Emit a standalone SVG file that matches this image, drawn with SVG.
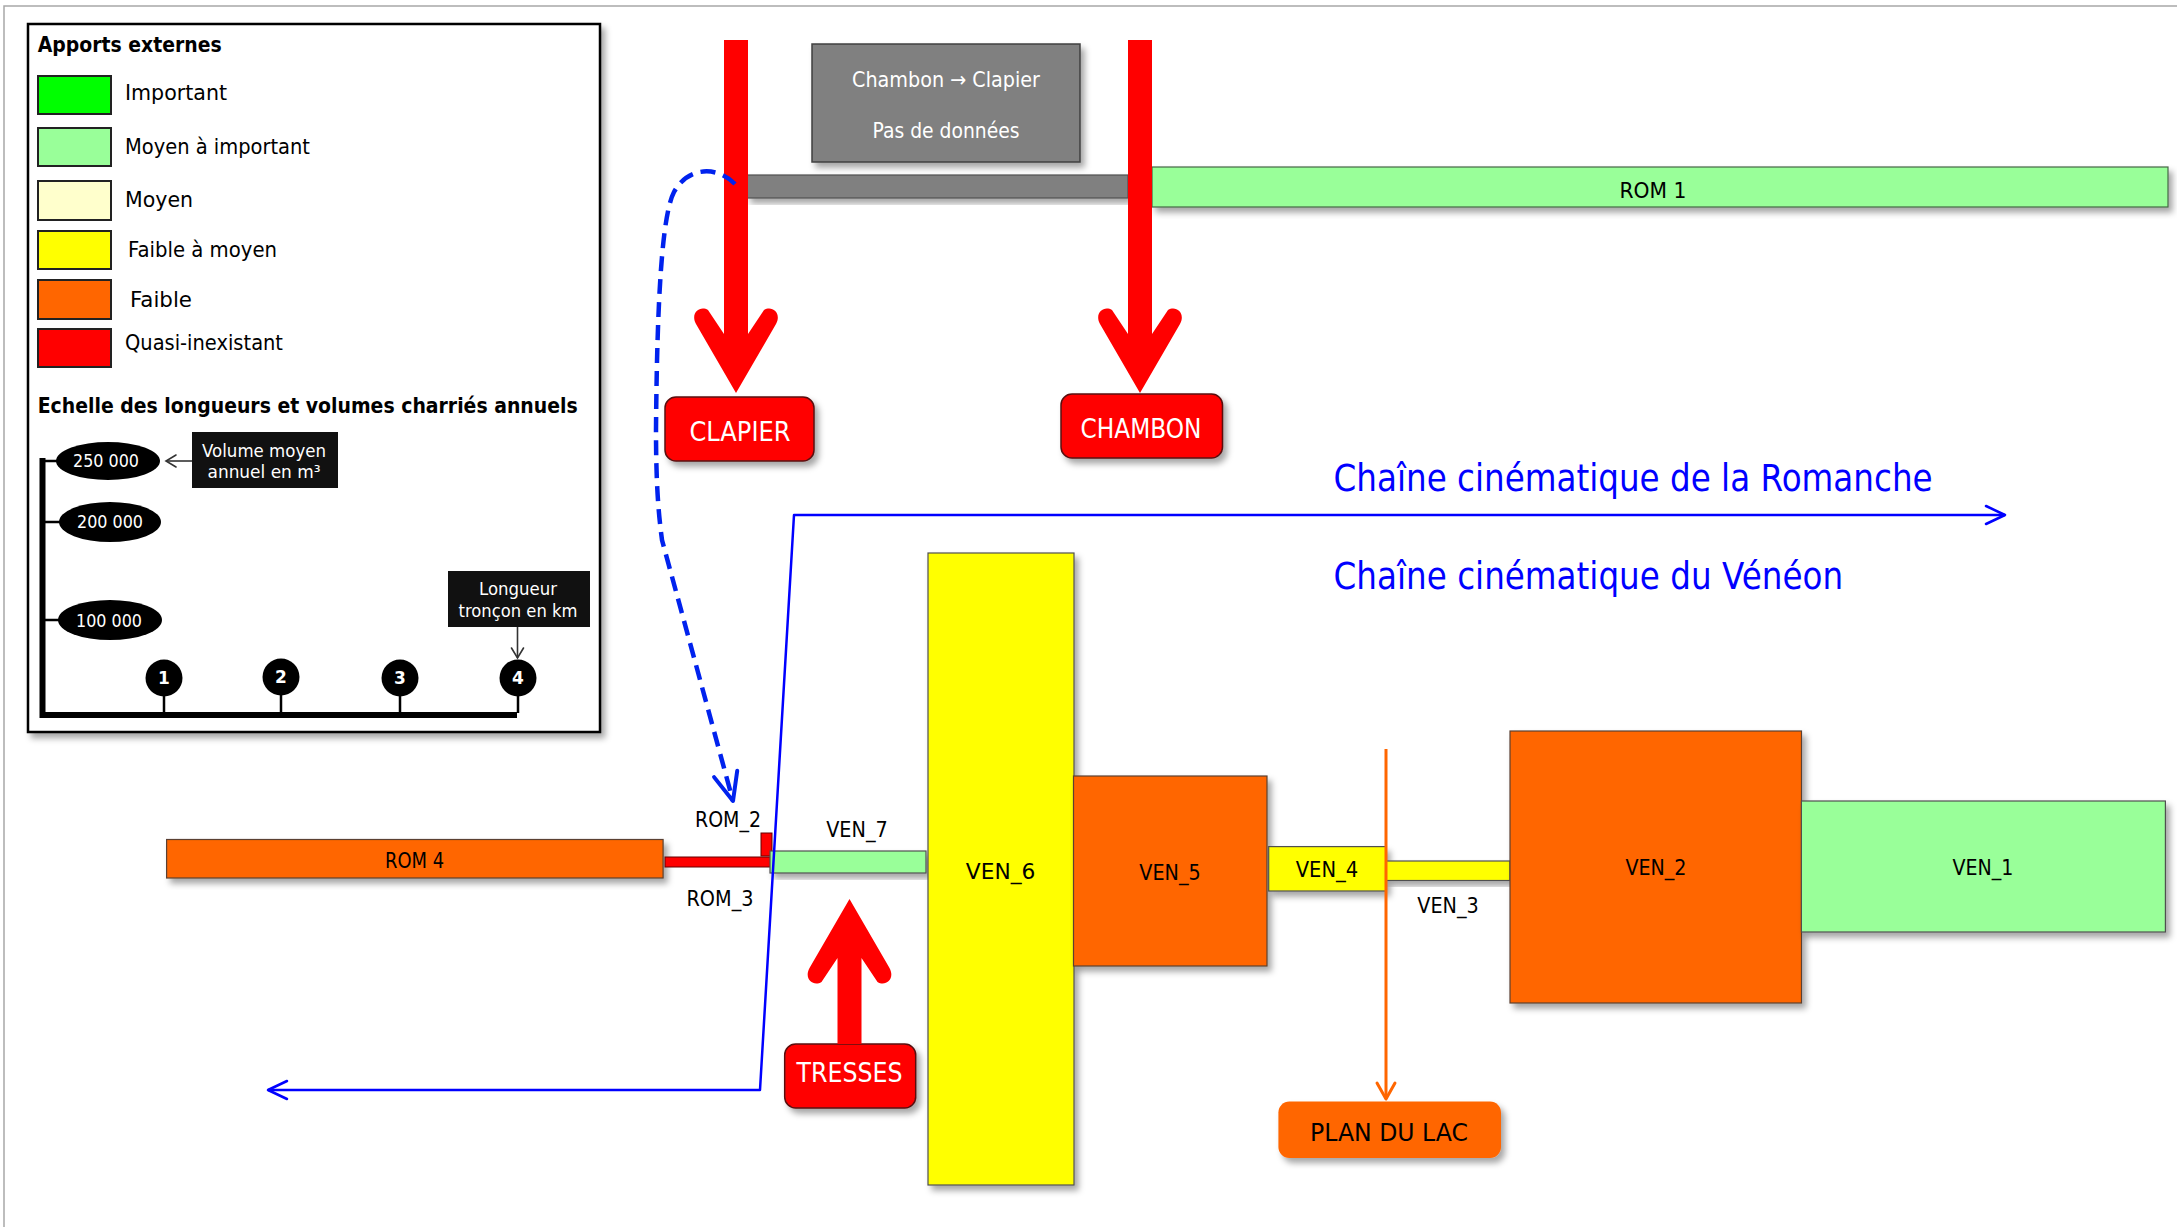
<svg xmlns="http://www.w3.org/2000/svg" width="2177" height="1227" viewBox="0 0 2177 1227">
  <style>
    text { font-family: "DejaVu Sans", "Liberation Sans", sans-serif; }
    .lg { font-size: 21px; fill: #000; }
    .lgb { font-size: 20.6px; font-weight: bold; fill: #000; }
    .wt { fill: #fff; }
    .seg { font-size: 21.5px; fill: #000; text-anchor: middle; }
    .tag { font-size: 27px; fill: #fff; text-anchor: middle; }
    .chain { font-size: 37px; fill: #0000ff; }
    .rom { stroke: #5a4030; stroke-width: 1.2; }
    .ven { stroke: #505050; stroke-width: 1.2; }
    .swatch { stroke: #222; stroke-width: 2; }
  </style>
  <defs>
    <filter id="shadow" x="-10%" y="-10%" width="130%" height="140%">
      <feDropShadow dx="4" dy="5" stdDeviation="3" flood-color="#000" flood-opacity="0.35"/>
    </filter>
    <marker id="headBlue" markerUnits="userSpaceOnUse" markerWidth="26" markerHeight="26" refX="22" refY="12" orient="auto-start-reverse">
      <path d="M3,3 L22,12 L3,21" fill="none" stroke="#0000ff" stroke-width="2.5" stroke-linecap="round" stroke-linejoin="round"/>
    </marker>
    <marker id="headDash" markerUnits="userSpaceOnUse" markerWidth="36" markerHeight="36" refX="32" refY="16" orient="auto">
      <path d="M4,4 L32,16 L4,28" fill="none" stroke="#0022ee" stroke-width="4" stroke-linecap="round" stroke-linejoin="round"/>
    </marker>
    <marker id="headOrange" markerUnits="userSpaceOnUse" markerWidth="24" markerHeight="24" refX="20" refY="12" orient="auto">
      <path d="M4,3 L20,12 L4,21" fill="none" stroke="#ff6600" stroke-width="3" stroke-linecap="round" stroke-linejoin="round"/>
    </marker>
    <marker id="headSmall" markerUnits="userSpaceOnUse" markerWidth="16" markerHeight="16" refX="13" refY="8" orient="auto">
      <path d="M3,2 L13,8 L3,14" fill="none" stroke="#333" stroke-width="1.6" stroke-linecap="round"/>
    </marker>
  </defs>

  <rect width="2177" height="1227" fill="#fff"/>
  <!-- page frame -->
  <path d="M4,1227 L4,6 L2177,6" fill="none" stroke="#a8a8a8" stroke-width="1.5"/>

  <!-- legend -->
  <g id="legend">
    <rect x="28" y="24" width="572" height="708" fill="#fff" stroke="#000" stroke-width="2.5" filter="url(#shadow)"/>
    <text class="lgb" x="37.7" y="51.7" textLength="184" lengthAdjust="spacingAndGlyphs">Apports externes</text>
    <rect class="swatch" x="38" y="76" width="73" height="38" fill="#00ff00"/>
    <rect class="swatch" x="38" y="128" width="73" height="38" fill="#99ff99"/>
    <rect class="swatch" x="38" y="181" width="73" height="39" fill="#ffffcc"/>
    <rect class="swatch" x="38" y="231" width="73" height="38" fill="#ffff00"/>
    <rect class="swatch" x="38" y="280" width="73" height="39" fill="#ff6600"/>
    <rect class="swatch" x="38" y="329" width="73" height="38" fill="#ff0000"/>
    <text class="lg" x="125" y="100" textLength="102" lengthAdjust="spacingAndGlyphs">Important</text>
    <text class="lg" x="125" y="154" textLength="185" lengthAdjust="spacingAndGlyphs">Moyen à important</text>
    <text class="lg" x="125" y="207" textLength="68" lengthAdjust="spacingAndGlyphs">Moyen</text>
    <text class="lg" x="128" y="257" textLength="149" lengthAdjust="spacingAndGlyphs">Faible à moyen</text>
    <text class="lg" x="130" y="307" textLength="62" lengthAdjust="spacingAndGlyphs">Faible</text>
    <text class="lg" x="125" y="350" textLength="158" lengthAdjust="spacingAndGlyphs">Quasi-inexistant</text>
    <text class="lgb" x="37.7" y="413" textLength="540" lengthAdjust="spacingAndGlyphs">Echelle des longueurs et volumes charriés annuels</text>

    <!-- scale axes -->
    <path d="M42.5,458 L42.5,715 L517,715" fill="none" stroke="#000" stroke-width="6"/>
    <path d="M43,461 H58 M43,522 H60 M43,620 H60 M164,696 V713 M281,695 V713 M400,696 V713 M518,696 V713" stroke="#000" stroke-width="2.5"/>
    <ellipse cx="108" cy="461" rx="52" ry="19" fill="#000"/>
    <ellipse cx="110" cy="522" rx="51" ry="20" fill="#000"/>
    <ellipse cx="110" cy="620" rx="52" ry="20" fill="#000"/>
    <text class="wt" x="106" y="467" font-size="18.5" text-anchor="middle" textLength="66" lengthAdjust="spacingAndGlyphs">250 000</text>
    <text class="wt" x="110" y="528" font-size="18.5" text-anchor="middle" textLength="66" lengthAdjust="spacingAndGlyphs">200 000</text>
    <text class="wt" x="109" y="627" font-size="18.5" text-anchor="middle" textLength="66" lengthAdjust="spacingAndGlyphs">100 000</text>
    <circle cx="164" cy="678" r="18.5" fill="#000"/>
    <circle cx="281" cy="677" r="18.5" fill="#000"/>
    <circle cx="400" cy="678" r="18.5" fill="#000"/>
    <circle cx="518" cy="678" r="18.5" fill="#000"/>
    <text class="wt" x="164" y="684" font-size="17" font-weight="bold" text-anchor="middle">1</text>
    <text class="wt" x="281" y="683" font-size="17" font-weight="bold" text-anchor="middle">2</text>
    <text class="wt" x="400" y="684" font-size="17" font-weight="bold" text-anchor="middle">3</text>
    <text class="wt" x="518" y="684" font-size="17" font-weight="bold" text-anchor="middle">4</text>

    <rect x="192" y="432" width="146" height="56" fill="#111"/>
    <text class="wt" x="264" y="456.7" font-size="17.5" text-anchor="middle" textLength="124" lengthAdjust="spacingAndGlyphs">Volume moyen</text>
    <text class="wt" x="264" y="478" font-size="17.5" text-anchor="middle" textLength="113" lengthAdjust="spacingAndGlyphs">annuel en m³</text>
    <line x1="192" y1="461" x2="166" y2="461" stroke="#333" stroke-width="1.6" marker-end="url(#headSmall)"/>

    <rect x="448" y="571" width="142" height="56" fill="#111"/>
    <text class="wt" x="518" y="595" font-size="17.5" text-anchor="middle" textLength="78" lengthAdjust="spacingAndGlyphs">Longueur</text>
    <text class="wt" x="518" y="616.7" font-size="17.5" text-anchor="middle" textLength="119" lengthAdjust="spacingAndGlyphs">tronçon en km</text>
    <line x1="517.5" y1="627" x2="517.5" y2="658" stroke="#333" stroke-width="1.6" marker-end="url(#headSmall)"/>
  </g>

  <!-- reach without data between the two dams -->
  <g id="no-data">
    <rect x="747" y="175" width="381" height="23" fill="#808080" stroke="#505050" stroke-width="1.2" filter="url(#shadow)"/>
    <rect x="812" y="44" width="268" height="118" fill="#808080" stroke="#404040" stroke-width="1.5" filter="url(#shadow)"/>
    <text class="wt" x="946" y="86.7" font-size="21" text-anchor="middle" textLength="188" lengthAdjust="spacingAndGlyphs">Chambon → Clapier</text>
    <text class="wt" x="946" y="138" font-size="21" text-anchor="middle" textLength="147" lengthAdjust="spacingAndGlyphs">Pas de données</text>
  </g>

  <g id="ROM1">
    <rect x="1152" y="167" width="1016" height="40" fill="#99ff99" stroke="#446644" stroke-width="1.2" filter="url(#shadow)"/>
    <text class="seg" x="1653" y="198" textLength="67" lengthAdjust="spacingAndGlyphs">ROM 1</text>
  </g>

  <g id="ROM4">
    <rect class="rom" x="166.6" y="839.5" width="496.5" height="38.5" fill="#ff6600" filter="url(#shadow)"/>
    <text class="seg" x="414.6" y="868" textLength="59" lengthAdjust="spacingAndGlyphs">ROM 4</text>
  </g>

  <g id="ROM3">
    <rect x="665" y="857" width="106" height="10" fill="#ff0000" stroke="#600" stroke-width="1"/>
    <text class="seg" x="720" y="906" textLength="67" lengthAdjust="spacingAndGlyphs">ROM_3</text>
  </g>

  <g id="ROM2">
    <rect x="761" y="833" width="11" height="23" fill="#ff0000" stroke="#600" stroke-width="1"/>
    <text class="seg" x="728" y="827" textLength="66" lengthAdjust="spacingAndGlyphs">ROM_2</text>
  </g>

  <g id="VEN7">
    <rect class="ven" x="770" y="851" width="156" height="22" fill="#99ff99" filter="url(#shadow)"/>
    <text class="seg" x="857" y="837" textLength="61.6" lengthAdjust="spacingAndGlyphs">VEN_7</text>
  </g>

  <g id="VEN6">
    <rect class="ven" x="928" y="553" width="146" height="632" fill="#ffff00" filter="url(#shadow)"/>
    <text class="seg" x="1000.6" y="879" font-size="24" textLength="69.5" lengthAdjust="spacingAndGlyphs">VEN_6</text>
  </g>

  <g id="VEN5">
    <rect class="rom" x="1073.5" y="776" width="193.5" height="190" fill="#ff6600" filter="url(#shadow)"/>
    <text class="seg" x="1170" y="880.4" textLength="61.4" lengthAdjust="spacingAndGlyphs">VEN_5</text>
  </g>

  <g id="VEN4">
    <rect class="ven" x="1268.7" y="846.6" width="117.3" height="44.4" fill="#ffff00" filter="url(#shadow)"/>
    <text class="seg" x="1327" y="877.4" textLength="62.6" lengthAdjust="spacingAndGlyphs">VEN_4</text>
  </g>

  <g id="VEN3">
    <rect class="ven" x="1386" y="861" width="124" height="19.5" fill="#ffff00" filter="url(#shadow)"/>
    <text class="seg" x="1448" y="913" textLength="61.5" lengthAdjust="spacingAndGlyphs">VEN_3</text>
  </g>

  <g id="VEN2">
    <rect class="rom" x="1510" y="731" width="291.5" height="272" fill="#ff6600" filter="url(#shadow)"/>
    <text class="seg" x="1656" y="875" textLength="61" lengthAdjust="spacingAndGlyphs">VEN_2</text>
  </g>

  <g id="VEN1">
    <rect class="ven" x="1801.4" y="801" width="364" height="131" fill="#99ff99" filter="url(#shadow)"/>
    <text class="seg" x="1983" y="875" textLength="61" lengthAdjust="spacingAndGlyphs">VEN_1</text>
  </g>

  <!-- inflow sources -->
  <g id="CLAPIER">
    <rect x="665" y="397" width="149" height="64" rx="11" fill="#ff0000" stroke="#5a1010" stroke-width="1.5" filter="url(#shadow)"/>
    <text class="tag" x="740" y="441" textLength="101" lengthAdjust="spacingAndGlyphs">CLAPIER</text>
  </g>
  <g id="CHAMBON">
    <rect x="1061" y="394" width="161.5" height="64" rx="11" fill="#ff0000" stroke="#5a1010" stroke-width="1.5" filter="url(#shadow)"/>
    <text class="tag" x="1141" y="438" textLength="121" lengthAdjust="spacingAndGlyphs">CHAMBON</text>
  </g>
  <g id="TRESSES">
    <rect x="784.7" y="1044" width="131" height="64" rx="11" fill="#ff0000" stroke="#5a1010" stroke-width="1.5" filter="url(#shadow)"/>
    <text class="tag" x="849.6" y="1082" textLength="106" lengthAdjust="spacingAndGlyphs">TRESSES</text>
  </g>
  <g id="PLAN-DU-LAC">
    <rect x="1278.4" y="1101.6" width="222.6" height="56.4" rx="11" fill="#ff6600" filter="url(#shadow)"/>
    <text x="1389" y="1140.6" font-size="25" fill="#000" text-anchor="middle" textLength="158" lengthAdjust="spacingAndGlyphs">PLAN DU LAC</text>
  </g>

  <!-- kinematic chain titles -->
  <g id="titles">
    <text class="chain" x="1333.6" y="490.7" textLength="599" lengthAdjust="spacingAndGlyphs">Chaîne cinématique de la Romanche</text>
    <text class="chain" x="1333.6" y="589" textLength="509.5" lengthAdjust="spacingAndGlyphs">Chaîne cinématique du Vénéon</text>
  </g>

  <!-- connectors -->
  <g id="connectors">
    <path d="M736,393 L696,324 C690,313 700,305 708,310 L724,334 L724,40 L748,40 L748,334 L764,310 C772,305 782,313 776,324 Z" fill="#ff0000"/>
    <path d="M1140,393 L1100,324 C1094,313 1104,305 1112,310 L1128,334 L1128,40 L1152,40 L1152,334 L1168,310 C1176,305 1186,313 1180,324 Z" fill="#ff0000"/>
    <path d="M849.5,899 L889.5,968 C895.5,979 885.5,987 877.5,982 L861.5,958 L861.5,1044 L837.5,1044 L837.5,958 L821.5,982 C813.5,987 803.5,979 809.5,968 Z" fill="#ff0000"/>
    <path d="M268,1090 L760,1090 L794,515 L2005,515" fill="none" stroke="#0000ff" stroke-width="2.5" stroke-linejoin="round" marker-start="url(#headBlue)" marker-end="url(#headBlue)"/>
    <path d="M735,184 C718,166 688,166 674,192 C662,215 657,300 656,430 C656,480 658,510 662,540 L733,801" fill="none" stroke="#0022ee" stroke-width="4.5" stroke-dasharray="15,8" marker-end="url(#headDash)"/>
    <line x1="1386" y1="749" x2="1386" y2="1099" stroke="#ff6600" stroke-width="3" marker-end="url(#headOrange)"/>
  </g>
</svg>
